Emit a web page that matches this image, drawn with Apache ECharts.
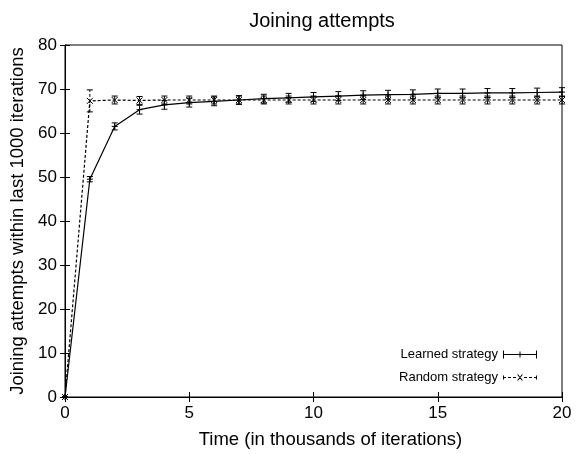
<!DOCTYPE html>
<html>
<head>
<meta charset="utf-8">
<script src="https://cdn.jsdelivr.net/npm/echarts@6/dist/echarts.min.js"></script>
<style>
  html, body { margin: 0; padding: 0; background: #fff; }
  #chart { width: 578px; height: 454px; }
</style>
</head>
<body>
<div id="chart"></div>
<script>
  var iterations = [0, 1, 2, 3, 4, 5, 6, 7, 8, 9, 10, 11, 12, 13, 14, 15, 16, 17, 18, 19, 20];
  var learnedMean = [0, 49.5, 61.5, 65.3, 66.4, 66.9, 67.2, 67.5, 67.8, 68.0, 68.2, 68.4, 68.6, 68.7, 68.8, 69.0, 69.0, 69.1, 69.1, 69.2, 69.3];
  var learnedErr = [0, 0.6, 0.8, 1.0, 1.0, 1.0, 1.0, 1.0, 1.0, 1.0, 1.0, 1.0, 1.0, 1.0, 1.0, 1.0, 1.0, 1.0, 1.0, 1.0, 1.0];
  var randomMean = [0, 67.3, 67.5, 67.4, 67.5, 67.5, 67.5, 67.5, 67.5, 67.5, 67.5, 67.5, 67.5, 67.5, 67.5, 67.5, 67.5, 67.5, 67.5, 67.5, 67.5];
  var randomErr = [0, 2.5, 0.9, 0.9, 0.9, 0.9, 0.9, 0.9, 0.9, 0.9, 0.9, 0.9, 0.9, 0.9, 0.9, 0.9, 0.9, 0.9, 0.9, 0.9, 0.9];

  var font = 'Liberation Sans';
  var plusPath = 'path://M0,5L10,5M5,0L5,10';
  var crossPath = 'path://M0,0L10,10M10,0L0,10';
  // legend samples drawn like gnuplot's: bar with end caps and the point marker
  var learnedIcon = 'path://M0,1h1v8h-1zM0,4.5h34v1h-34zM33,1h1v8h-1zM16.5,2h1v6h-1z';
  var randomIcon = 'path://M0,3h1v4h-1zM0,4.5h3v1h-3zM5,4.5h3v1h-3zM10,4.5h3v1h-3zM21,4.5h3v1h-3zM26,4.5h3v1h-3zM31,4.5h3v1h-3zM33,3h1v4h-1z' +
    'M14,2h1.2l4.8,6h-1.2zM18.8,2h1.2l-4.8,6h-1.2z';

  function pairs(mean) {
    return iterations.map(function(x, i) { return [x, mean[i]]; });
  }

  function errData(mean, err) {
    return iterations.map(function(x, i) { return [x, mean[i] - err[i], mean[i] + err[i]]; });
  }

  // vertical error bar with caps
  function errRender(dashed) {
    return function(params, api) {
      var x = api.value(0);
      var lo = api.coord([x, api.value(1)]);
      var hi = api.coord([x, api.value(2)]);
      var w = 3;
      var cap = { stroke: '#000', lineWidth: 1 };
      return {
        type: 'group',
        children: [
          { type: 'line', shape: { x1: lo[0], y1: lo[1], x2: hi[0], y2: hi[1] }, style: { stroke: '#000', lineWidth: 1, lineDash: dashed ? [3, 2] : null } },
          { type: 'line', shape: { x1: lo[0] - w, y1: lo[1], x2: lo[0] + w, y2: lo[1] }, style: cap },
          { type: 'line', shape: { x1: hi[0] - w, y1: hi[1], x2: hi[0] + w, y2: hi[1] }, style: cap }
        ]
      };
    };
  }

  var axisLabel = { color: '#000', fontFamily: font, fontSize: 17 };
  var tick = { inside: true, length: 5, lineStyle: { color: '#000' } };

  var option = {
    animation: false,
    title: {
      text: 'Joining attempts',
      left: 317,
      textAlign: 'center',
      top: 6,
      textStyle: { fontFamily: font, fontSize: 20, fontWeight: 'normal', color: '#000' }
    },
    legend: {
      orient: 'vertical',
      right: 36,
      top: 343,
      align: 'right',
      itemWidth: 34,
      itemHeight: 10,
      itemGap: 10,
      itemStyle: { color: '#000', borderWidth: 0 },
      lineStyle: { width: 0 },
      textStyle: { fontFamily: font, fontSize: 13, color: '#000' },
      data: [
        { name: 'Learned strategy', icon: learnedIcon },
        { name: 'Random strategy', icon: randomIcon }
      ]
    },
    grid: {
      left: 65, right: 16, top: 45, bottom: 57,
      show: true, borderColor: '#000', borderWidth: 1
    },
    xAxis: [{
      type: 'value', min: 0, max: 20, interval: 5,
      name: 'Time (in thousands of iterations)',
      nameLocation: 'middle', nameGap: 33,
      nameTextStyle: { fontFamily: font, fontSize: 18.5, color: '#000', padding: [0, 0, 0, 34] },
      axisLine: { lineStyle: { color: '#000' } },
      axisTick: tick,
      axisLabel: Object.assign({ margin: 8 }, axisLabel),
      splitLine: { show: false }
    }, {
      type: 'value', min: 0, max: 20, interval: 5, position: 'top',
      axisLine: { lineStyle: { color: '#000' } },
      axisTick: tick,
      axisLabel: { show: false },
      splitLine: { show: false }
    }],
    yAxis: [{
      type: 'value', min: 0, max: 80, interval: 10,
      name: 'Joining attempts within last 1000 iterations',
      nameLocation: 'middle', nameGap: 24,
      nameTextStyle: { fontFamily: font, fontSize: 18.5, color: '#000' },
      axisLine: { lineStyle: { color: '#000' } },
      axisTick: tick,
      axisLabel: Object.assign({ margin: 8 }, axisLabel),
      splitLine: { show: false }
    }, {
      type: 'value', min: 0, max: 80, interval: 10, position: 'right',
      axisLine: { lineStyle: { color: '#000' } },
      axisTick: tick,
      axisLabel: { show: false },
      splitLine: { show: false }
    }],
    series: [{
      name: 'Learned strategy',
      type: 'line',
      data: pairs(learnedMean),
      symbol: plusPath,
      symbolSize: 6,
      color: '#000',
      lineStyle: { color: '#000', width: 1.2 },
      itemStyle: { color: '#000', borderColor: '#000', borderWidth: 1 }
    }, {
      name: 'Random strategy',
      type: 'line',
      data: pairs(randomMean),
      symbol: crossPath,
      symbolSize: 6,
      color: '#000',
      lineStyle: { color: '#000', width: 1.2, type: [3, 2] },
      itemStyle: { color: '#000', borderColor: '#000', borderWidth: 1 }
    }, {
      type: 'custom',
      renderItem: errRender(false),
      data: errData(learnedMean, learnedErr),
      encode: { x: 0, y: [1, 2] },
      z: 3
    }, {
      type: 'custom',
      renderItem: errRender(true),
      data: errData(randomMean, randomErr),
      encode: { x: 0, y: [1, 2] },
      z: 3
    }]
  };

  var chart = echarts.init(document.getElementById('chart'));
  chart.setOption(option);
</script>
</body>
</html>
